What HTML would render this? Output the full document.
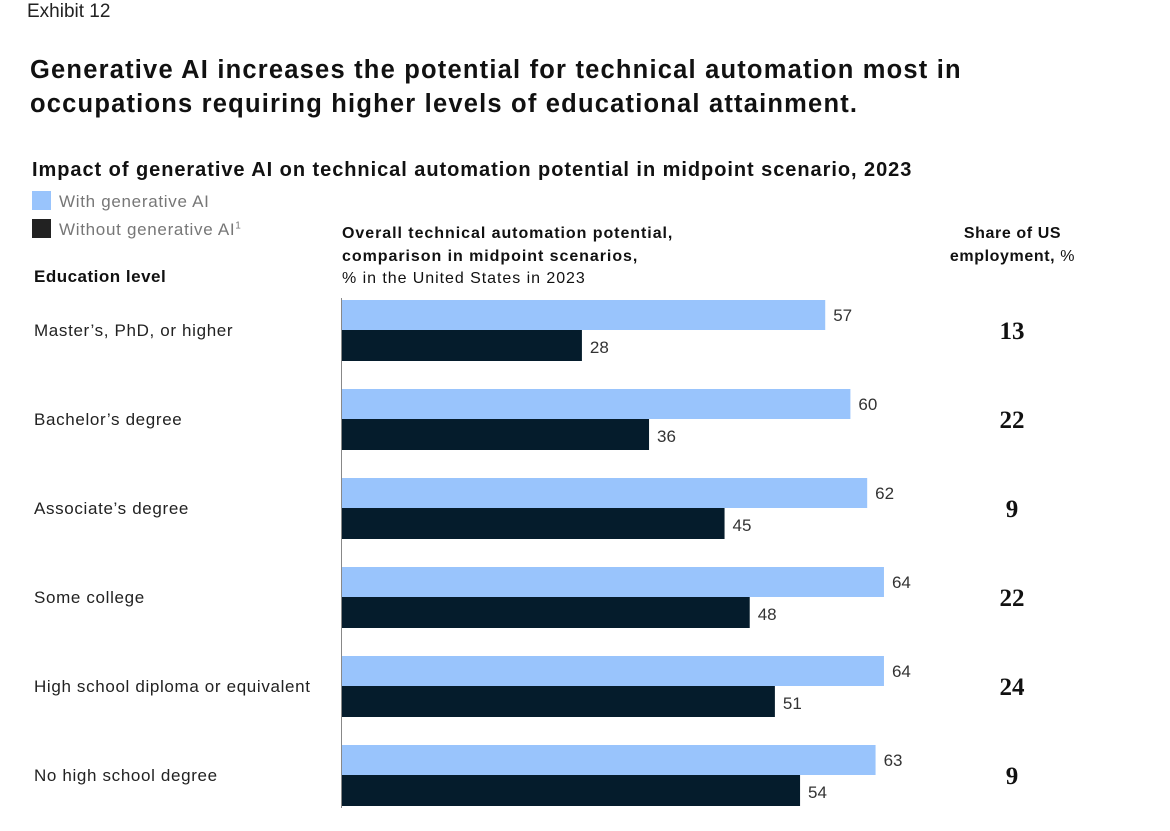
<!DOCTYPE html>
<html><head><meta charset="utf-8"><style>
body{margin:0;width:1170px;height:831px;background:#fff;font-family:"Liberation Sans",sans-serif;color:#111;position:relative;overflow:hidden}
.a{position:absolute;white-space:nowrap}
</style></head><body>
<div class="a" style="left:27px;top:1px;font-size:19px;color:#222">Exhibit 12</div>
<div class="a" style="left:30px;top:53px;font-size:25.5px;letter-spacing:1.2px;font-weight:bold;line-height:34px;color:#111">Generative AI increases the potential for technical automation most in<br>occupations requiring higher levels of educational attainment.</div>
<div class="a" style="left:32px;top:159px;font-size:20px;letter-spacing:0.95px;font-weight:bold">Impact of generative AI on technical automation potential in midpoint scenario, 2023</div>
<div class="a" style="left:32px;top:191px;font-size:17px;letter-spacing:0.7px;color:#777"><span style="display:inline-block;width:19px;height:19px;background:#99c4fc;vertical-align:-3px;margin-right:8px"></span>With generative AI</div>
<div class="a" style="left:32px;top:219px;font-size:17px;letter-spacing:0.7px;color:#777"><span style="display:inline-block;width:19px;height:19px;background:#222;vertical-align:-3px;margin-right:8px"></span>Without generative AI<sup style="font-size:10px">1</sup></div>
<div class="a" style="left:34px;top:267px;font-size:17px;letter-spacing:0.5px;font-weight:bold">Education level</div>
<div class="a" style="left:342px;top:223px;font-size:16px;letter-spacing:0.95px;line-height:22.5px"><b>Overall technical automation potential,<br>comparison in midpoint scenarios,</b><br>% in the United States in 2023</div>
<div class="a" style="left:930px;top:223px;width:165px;text-align:center;font-size:16px;letter-spacing:0.6px;line-height:22.5px"><b>Share of US<br>employment,</b> %</div>
<svg class="a" style="left:0;top:0" width="1170" height="831"></svg>
<script>
const categories=["Master’s, PhD, or higher","Bachelor’s degree","Associate’s degree","Some college","High school diploma or equivalent","No high school degree"];
const withAI=[57,60,62,64,64,63];
const withoutAI=[28,36,45,48,51,54];
const share=[13,22,9,22,24,9];
const svg=document.querySelector('svg');
const NS='http://www.w3.org/2000/svg';
function x(v){return 347+v*8.39;}
function y(i){return 300+i*89;}
function mk(t,a){const e=document.createElementNS(NS,t);for(const k in a)e.setAttribute(k,a[k]);svg.appendChild(e);return e;}
const ax=mk('line',{x1:341.5,x2:341.5,y1:298,y2:808,stroke:'#888','stroke-width':1});


categories.forEach((c,i)=>{
  const t=mk('text',{x:34,y:y(i)+36,'font-size':17,'letter-spacing':0.65,fill:'#222','font-family':'Liberation Sans, sans-serif'});t.textContent=c;
  
  
  const b1=mk('rect',{x:342,y:y(i),width:x(withAI[i])-342,height:30,fill:'#99c4fc'});
  
  
  const b2=mk('rect',{x:342,y:y(i)+30,width:x(withoutAI[i])-342,height:31,fill:'#051c2c'});
  
  
  const l1=mk('text',{x:x(withAI[i])+8,y:y(i)+21,'font-size':17,fill:'#333','font-family':'Liberation Sans, sans-serif'});l1.textContent=withAI[i];
  
  
  const l2=mk('text',{x:x(withoutAI[i])+8,y:y(i)+53,'font-size':17,fill:'#333','font-family':'Liberation Sans, sans-serif'});l2.textContent=withoutAI[i];
  
  
  const s=mk('text',{x:1012,y:y(i)+39,'font-size':25,'font-weight':'bold','text-anchor':'middle',fill:'#111','font-family':'Liberation Serif, serif'});s.textContent=share[i];
  
  
});
</script>
</body></html>
